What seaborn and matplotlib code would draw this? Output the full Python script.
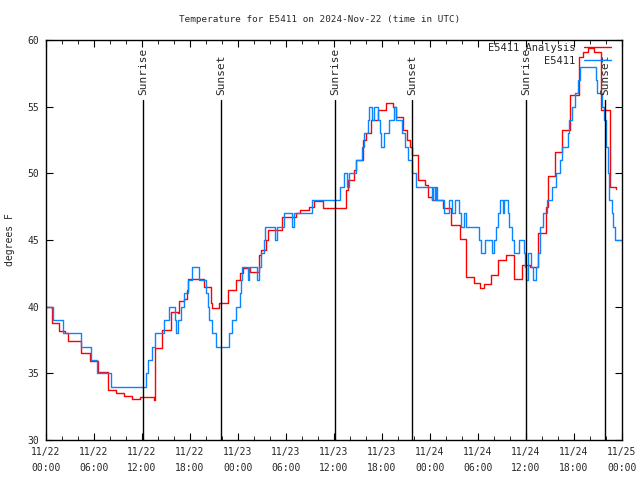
import seaborn as sns
import pandas as pd
import matplotlib
matplotlib.use("Agg")
import matplotlib.pyplot as plt
from matplotlib.ticker import MultipleLocator

# horas desde 2024-11-22 00:00 UTC
obs_horas = [0.0, 0.83, 2.08, 4.33, 5.58, 6.42, 8.08, 12.5, 12.8, 13.2, 13.6, 14.75, 15.4, 16.1, 16.25,
             16.5, 16.9, 17.2, 17.8, 18.3, 19.1, 19.95, 20.2, 20.4, 20.7, 21.25, 22.9, 23.3, 23.75,
             24.25, 24.4, 24.55, 25.2, 25.4, 26.4, 26.6, 26.85, 27.2, 27.4, 28.6, 28.9, 29.8, 30.8,
             31.0, 33.3, 36.8, 37.3, 37.6, 37.9, 38.7, 39.5, 39.75, 40.2, 40.4, 40.8, 41.0, 41.5,
             41.7, 41.9, 42.25, 42.9, 43.5, 43.75, 44.5, 44.9, 45.3, 45.8, 46.3, 48.2, 48.4, 48.6,
             48.75, 48.9, 49.75, 50.4, 50.8, 51.1, 51.6, 51.9, 52.2, 52.5, 54.1, 54.4, 54.9, 55.8,
             56.05, 56.25, 56.5, 56.7, 57.1, 57.3, 57.7, 57.9, 58.3, 58.5, 59.1, 59.7, 59.9, 60.05,
             60.2, 60.6, 60.85, 61.2, 61.45, 61.7, 62.1, 62.6, 63.2, 63.8, 64.2, 64.5, 65.2, 65.4,
             65.8, 66.1, 66.45, 66.7, 68.7, 68.9, 69.5, 69.8, 70.0, 70.2, 70.4, 70.7, 70.9, 71.1, 72.0]
obs_temp = [40, 39, 38, 37, 36, 35, 34, 35, 36, 37, 38, 39, 40, 39, 38,
            39, 40, 41, 42, 43, 42, 41, 40, 39, 38, 37, 38, 39, 40,
            41, 42, 43, 42, 43, 42, 43, 44, 45, 46, 45, 46, 47, 46,
            47, 48, 49, 50, 49, 50, 51, 52, 53, 54, 55, 54, 55, 54,
            53, 52, 53, 54, 55, 54, 53, 52, 51, 50, 49, 48, 49, 48,
            49, 48, 47, 48, 47, 48, 47, 46, 47, 46, 45, 44, 45, 44,
            45, 46, 47, 48, 47, 48, 47, 46, 45, 44, 45, 44, 43, 42,
            44, 43, 42, 43, 44, 46, 47, 48, 49, 50, 51, 52, 53, 54,
            55, 56, 57, 58, 57, 56, 55, 54, 52, 50, 48, 47, 46, 45, 45]

ana_horas = [0.0, 0.8, 1.6, 2.4, 2.7, 4.4, 5.5, 6.5, 7.7, 8.7, 9.7, 10.8, 11.75, 13.45, 13.6,
             14.5, 15.6, 16.5, 16.65, 17.2, 17.6, 17.8, 19.75, 20.6, 20.8, 21.6, 22.7, 23.7, 24.2,
             24.6, 25.5, 26.6, 26.9, 27.5, 27.7, 29.5, 31.25, 31.7, 32.9, 33.5, 34.6, 36.0, 37.5,
             37.7, 38.5, 38.75, 39.6, 40.0, 40.6, 41.5, 42.5, 43.4, 43.8, 44.6, 45.1, 45.5, 45.8,
             46.45, 47.4, 47.7, 48.3, 49.6, 50.6, 51.7, 52.5, 53.5, 54.25, 54.7, 55.6, 56.45, 57.5,
             58.5, 59.55, 60.5, 61.5, 62.5, 62.7, 63.6, 64.5, 65.5, 66.6, 67.1, 67.7, 68.5, 69.4,
             70.5, 71.3]
ana_temp = [40, 38.8, 38.2, 38.0, 37.4, 36.5, 35.9, 35.1, 33.75, 33.5, 33.3, 33.05, 33.2, 33.0, 36.9,
            38.25, 39.6, 39.5, 40.4, 40.55, 41.25, 42.1, 41.5, 40.25, 39.9, 40.3, 41.25, 42.0, 42.5,
            42.9, 42.6, 43.9, 44.25, 45.0, 45.75, 46.75, 47.0, 47.25, 47.5, 47.9, 47.4, 47.4, 48.75,
            49.5, 50.25, 51.0, 52.5, 53.0, 54.0, 54.75, 55.25, 55.0, 54.25, 53.25, 52.5, 52.0, 51.4,
            49.5, 49.1, 48.25, 48.0, 47.4, 46.1, 45.1, 42.25, 41.75, 41.4, 41.7, 42.4, 43.5, 43.9,
            42.05, 43.1, 43.0, 45.5, 47.5, 49.8, 51.6, 53.25, 55.9, 58.75, 59.1, 59.4, 59.1, 54.75,
            49.0, 48.8]

sol_horas = [12.1, 21.9, 36.1, 45.8, 60.0, 69.9]
sol_nomes = ["Sunrise", "Sunset", "Sunrise", "Sunset", "Sunrise", "Sunset"]

tick_labels = ["11/22\n00:00", "11/22\n06:00", "11/22\n12:00", "11/22\n18:00",
               "11/23\n00:00", "11/23\n06:00", "11/23\n12:00", "11/23\n18:00",
               "11/24\n00:00", "11/24\n06:00", "11/24\n12:00", "11/24\n18:00",
               "11/25\n00:00"]

df_ana = pd.DataFrame({"hora": ana_horas, "temp": ana_temp})
df_obs = pd.DataFrame({"hora": obs_horas, "temp": obs_temp})

sns.set_style("ticks")
plt.rcParams['font.family'] = ['DejaVu Sans Mono', 'DejaVu Sans']
plt.rcParams['font.size'] = 7

fig = plt.figure(figsize=(6.4, 4.8), dpi=100)
ax = fig.add_axes([46 / 640, 40 / 480, 576 / 640, 400 / 480])

sns.lineplot(data=df_ana, x="hora", y="temp", color="#ff0000", lw=1.0,
             drawstyle="steps-post", label="E5411 Analysis", ax=ax)
sns.lineplot(data=df_obs, x="hora", y="temp", color="#0a84ff", lw=1.0,
             drawstyle="steps-post", label="E5411", ax=ax)

# linhas do nascer/pôr do sol
for h, nome in zip(sol_horas, sol_nomes):
    ax.plot([h, h], [30, 55.5], color="black", lw=1.0)
    ax.text(h, 55.9, nome, rotation=90, ha="center", va="bottom", fontsize=8)

ax.set_xlim(0, 72)
ax.set_ylim(30, 60)
ax.set_xticks(range(0, 73, 6))
ax.set_xticklabels(tick_labels, linespacing=1.7, fontsize=7)
ax.xaxis.set_minor_locator(MultipleLocator(2))
ax.set_yticks(range(30, 61, 5))
ax.tick_params(which="both", direction="in", top=True, right=True, color="black")
ax.tick_params(which="major", length=5, pad=5)
ax.tick_params(which="minor", length=3)
for s in ax.spines.values():
    s.set_color("black")
    s.set_linewidth(1.0)

ax.set_xlabel("")
ax.set_ylabel("degrees F", labelpad=9, fontsize=7)
fig.suptitle("Temperature for E5411 on 2024-Nov-22 (time in UTC)", x=0.5, y=1 - 19 / 480,
             va="center", fontsize=6.7)
ax.legend(loc="upper right", bbox_to_anchor=(1 - 10 / 576, 1 - 2 / 400), frameon=False,
          markerfirst=False, handlelength=2.6, borderaxespad=0, borderpad=0.1,
          labelspacing=0.25, fontsize=7.5)

plt.savefig("out.png", dpi=100)
